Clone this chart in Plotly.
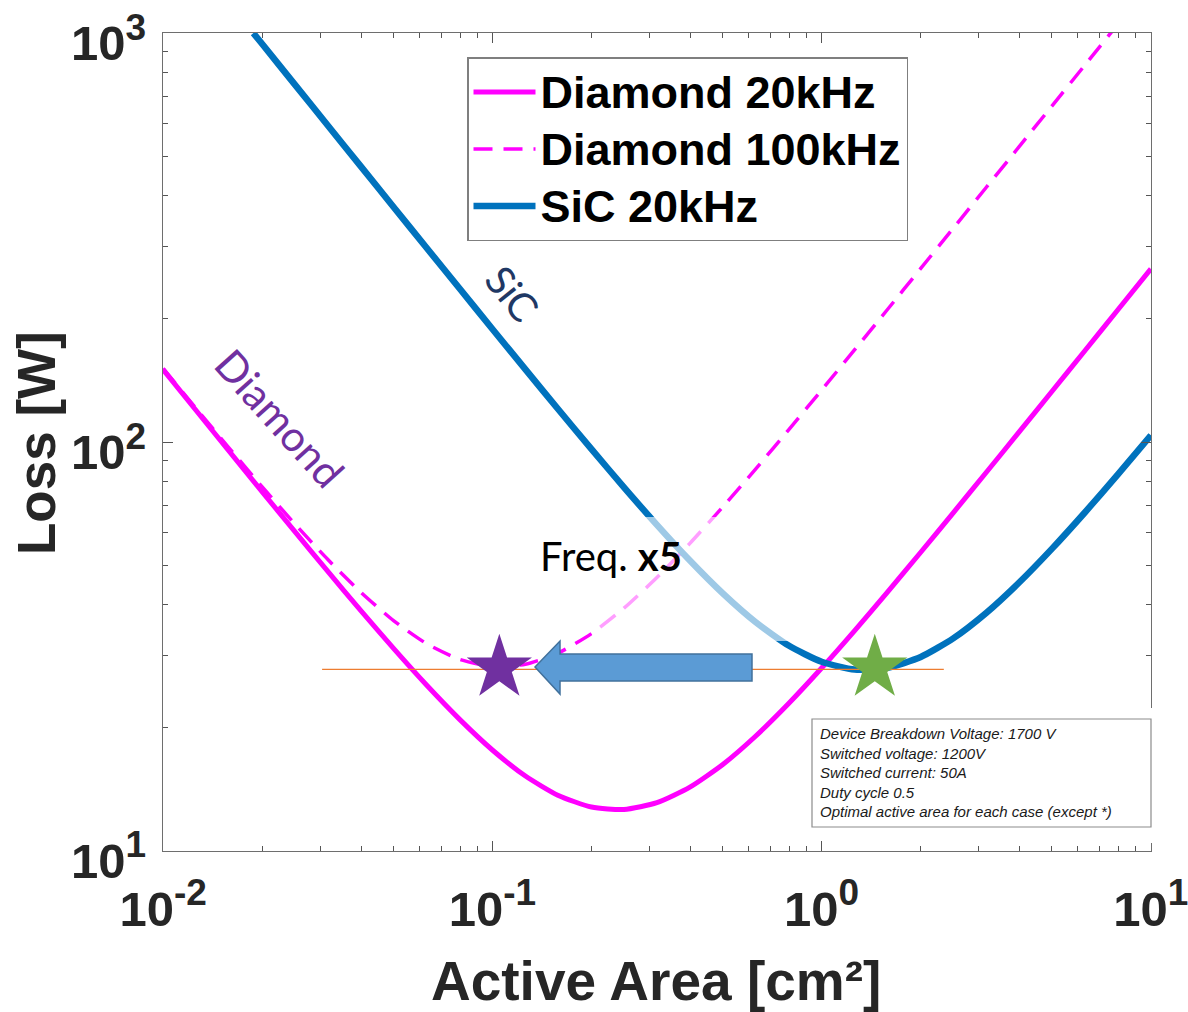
import plotly.graph_objects as go

# ---------------- data ----------------
area = [0.01, 0.0126, 0.0158, 0.02, 0.0251, 0.0316, 0.0398, 0.0501, 0.0631, 0.0794,
        0.1, 0.126, 0.158, 0.2, 0.251, 0.316, 0.398, 0.501, 0.631, 0.794,
        1.0, 1.26, 1.58, 2.0, 2.51, 3.16, 3.98, 5.01, 6.31, 7.94, 10.0]
diamond_20k = [150.27, 119.38, 95.36, 75.53, 60.43, 48.31, 38.74, 31.27, 25.44, 21.0,
               17.65, 15.24, 13.68, 12.8, 12.63, 13.12, 14.32, 16.27, 19.10, 22.93,
               28.0, 34.58, 42.82, 53.75, 67.11, 84.21, 105.85, 133.07, 167.45, 210.6, 265.15]

area_100k = [0.01, 0.0126, 0.0158, 0.02, 0.0251, 0.0316, 0.0398, 0.0501, 0.0631, 0.0794,
             0.1, 0.126, 0.158, 0.2, 0.251, 0.316, 0.398, 0.501, 0.631, 0.794,
             1.0, 1.26, 1.58, 2.0, 2.51, 3.16, 3.98, 5.01, 6.31, 7.94]
diamond_100k = [151.33, 120.72, 97.03, 77.65, 63.09, 51.66, 42.96, 36.58, 32.13, 29.41,
                28.25, 28.60, 30.43, 34.0, 39.24, 46.62, 56.5, 69.38, 85.98, 107.1,
                134.0, 168.14, 210.3, 265.75, 333.2, 419.2, 527.7, 664.1, 836.3, 1052.2]

area_sic = [0.0188, 0.02, 0.0251, 0.0316, 0.0398, 0.0501, 0.0631, 0.0794,
            0.1, 0.126, 0.158, 0.2, 0.251, 0.316, 0.398, 0.501, 0.631, 0.794,
            1.0, 1.26, 1.58, 2.0, 2.51, 3.16, 3.98, 5.01, 6.31, 7.94, 10.0]
sic_20k = [1000.2, 940.2, 749.3, 595.2, 472.8, 375.7, 298.6, 237.6,
           189.0, 150.5, 120.6, 96.04, 77.46, 62.72, 51.3, 42.63, 36.23, 31.78,
           29.0, 27.77, 28.02, 29.8, 33.09, 38.18, 45.32, 54.85, 67.34, 83.36, 103.88]

ref_x = [0.0304, 2.35]
ref_y = [27.8, 27.8]

star_x = [0.105, 1.45]
star_y = [28.0, 28.0]

series_names = ["Diamond 20kHz", "Diamond 100kHz", "SiC 20kHz"]

x_tickvals = [0.01, 0.1, 1, 10]
x_exp = ["-2", "-1", "0", "1"]
y_tickvals = [10, 100, 1000]
y_exp = ["1", "2", "3"]
x_minor = [m * d for d in (0.01, 0.1, 1) for m in range(2, 10)]
y_minor = [m * d for d in (10, 100) for m in range(2, 10)]

info_lines = ["Device Breakdown Voltage: 1700 V",
              "Switched voltage: 1200V",
              "Switched current: 50A",
              "Duty cycle 0.5",
              "Optimal active area for each case (except *)"]


def pow_label(e):
    return f"<b>10<sup><span style='font-size:37px'>{e}</span></sup></b>"


def legend_label(s):
    return f"<span style='font-size:45px'>{s}</span>"


# ---------------- layout geometry (pixels) ----------------
W, H = 1188, 1012
L, R, T, B = 163, 1151, 33, 851


def px(x):
    return (x - L) / (R - L)


def py(y):
    return (B - y) / (B - T)


MAGENTA = "#FF00FF"
SIC = "#0072BD"
FONT = "Liberation Sans, Arial"

fig = go.Figure()

fig.add_trace(go.Scatter(x=area, y=diamond_20k, mode="lines", name=legend_label(series_names[0]),
                         line=dict(color=MAGENTA, width=5, shape="spline", smoothing=0.6)))
fig.add_trace(go.Scatter(x=area_100k, y=diamond_100k, mode="lines",
                         name=legend_label(series_names[1]),
                         line=dict(color=MAGENTA, width=3.5, dash="19px,11px", shape="spline",
                                   smoothing=0.6)))
fig.add_trace(go.Scatter(x=area_sic, y=sic_20k, mode="lines", name=legend_label(series_names[2]),
                         line=dict(color=SIC, width=6.5, shape="spline", smoothing=0.6)))
fig.add_trace(go.Scatter(x=ref_x, y=ref_y, mode="lines", showlegend=False,
                         line=dict(color="#ED7D31", width=1.2)))
fig.add_trace(go.Scatter(x=star_x, y=star_y, mode="markers", showlegend=False,
                         marker=dict(symbol="star", size=49, color=["#7030A0", "#70AD47"],
                                     line=dict(width=0))))

shapes = []
# translucent white overlay (text box of "Freq. x5")
shapes.append(dict(type="rect", xref="paper", yref="paper", layer="above",
                   x0=px(592), x1=px(796), y0=py(641), y1=py(517),
                   fillcolor="rgba(255,255,255,0.62)", line=dict(width=0)))
# block arrow
ax = [752, 560, 560, 535, 560, 560, 752]
ay = [654, 654, 641, 667, 694, 681, 681]
path = "M " + " L ".join(f"{px(a):.5f},{py(b):.5f}" for a, b in zip(ax, ay)) + " Z"
shapes.append(dict(type="path", xref="paper", yref="paper", layer="above", path=path,
                   fillcolor="#5B9BD5", line=dict(color="#41719C", width=1.5)))
# cover of right axis behind the info box
shapes.append(dict(type="rect", xref="paper", yref="paper", layer="above",
                   x0=px(1140), x1=px(1160), y0=py(843), y1=py(708),
                   fillcolor="white", line=dict(width=0)))
# info box
shapes.append(dict(type="rect", xref="paper", yref="paper", layer="above",
                   x0=px(812), x1=px(1151), y0=py(827), y1=py(719),
                   fillcolor="white", line=dict(color="#8c8c8c", width=1.2)))

annotations = [
    dict(xref="paper", yref="paper", x=px(818), y=py(723), xanchor="left", yanchor="top",
         align="left", showarrow=False,
         text="<br>".join(f"<i>{s}</i>" for s in info_lines),
         font=dict(family=FONT, size=15, color="#1a1a1a")),
    dict(xref="paper", yref="paper", x=px(512), y=py(293), xanchor="center", yanchor="middle",
         showarrow=False, textangle=51,
         text="SiC", font=dict(family="Lato", size=40, color="#1F3864")),
    dict(xref="paper", yref="paper", x=px(280), y=py(418), xanchor="center", yanchor="middle",
         showarrow=False, textangle=48,
         text="Diamond", font=dict(family="Lato", size=42, color="#7030A0")),
    dict(xref="paper", yref="paper", x=px(611), y=py(556), xanchor="center", yanchor="middle",
         showarrow=False,
         text="Freq. <b>x5</b>", font=dict(family="Lato", size=40, color="black")),
    dict(xref="paper", yref="paper", x=px(656), y=py(981), xanchor="center", yanchor="middle",
         showarrow=False, text="<b>Active Area [cm²]</b>",
         font=dict(family=FONT, size=55, color="#262626")),
    dict(xref="paper", yref="paper", x=px(37), y=py(443), xanchor="center", yanchor="middle",
         showarrow=False, textangle=-90, text="<b>Loss [W]</b>",
         font=dict(family=FONT, size=53, color="#262626")),
]

axis_common = dict(type="log", showline=True, linecolor="#6e6e6e", linewidth=1.4,
                   mirror="allticks", ticks="inside", ticklen=10, tickwidth=1.2,
                   tickcolor="#555555", showgrid=False, zeroline=False, automargin=False,
                   ticklabeloverflow="allow",
                   tickfont=dict(family=FONT, size=49, color="#262626"))

fig.update_layout(
    width=W, height=H, autosize=False,
    margin=dict(l=L, r=W - R, t=T, b=H - B, pad=0),
    paper_bgcolor="white", plot_bgcolor="white",
    showlegend=True,
    legend=dict(x=px(467), y=py(57), xanchor="left", yanchor="top",
                bgcolor="white", bordercolor="#7f7f7f", borderwidth=1.5,
                font=dict(family=FONT, size=41.5, color="black", weight="bold"),
                itemwidth=62, tracegroupgap=0),
    shapes=shapes, annotations=annotations,
    xaxis=dict(axis_common, range=[-2.0003, 1.0003], tickmode="array", tickvals=x_tickvals,
               ticktext=[pow_label(e) for e in x_exp], ticklabelstandoff=15,
               minor=dict(tickmode="array", tickvals=x_minor, ticks="inside", ticklen=5,
                          tickcolor="#555555", showgrid=False)),
    yaxis=dict(axis_common, range=[0.9997, 3.0003], tickmode="array", tickvals=y_tickvals,
               ticktext=[pow_label(e) for e in y_exp], ticklabelstandoff=6,
               ticklabelshift=10,
               minor=dict(tickmode="array", tickvals=y_minor, ticks="inside", ticklen=5,
                          tickcolor="#555555", showgrid=False)),
)

fig.write_html("out.html", config={"displayModeBar": False},
               post_script="document.body.style.margin='0px';")
